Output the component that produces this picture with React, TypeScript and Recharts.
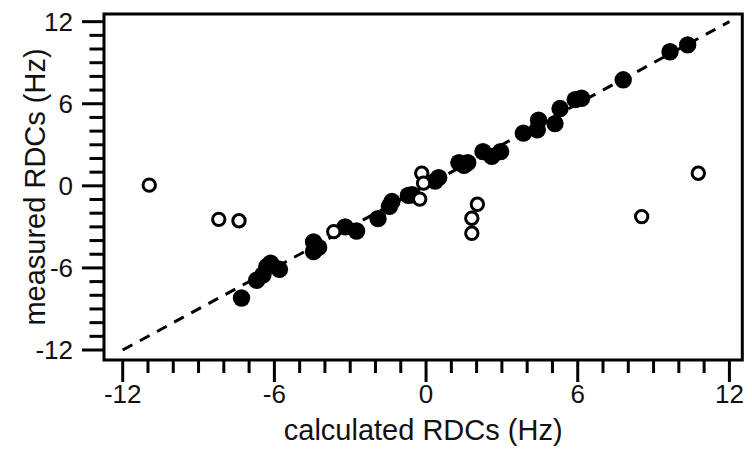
import React from 'react';
import {
  ScatterChart,
  Scatter,
  XAxis,
  YAxis,
  ReferenceLine,
  ReferenceArea,
} from 'recharts';

// filled circles: RDCs used in the fit
const filledX = [
  -7.3, -6.7, -6.45, -6.3, -6.15, -5.8, -4.45, -4.45, -4.25, -3.2, -2.75, -1.9,
  -1.45, -1.35, -0.7, -0.55, 0.36, 0.5, 1.3, 1.5, 1.65, 2.25, 2.6, 2.95, 3.85,
  4.4, 4.45, 5.1, 5.3, 5.9, 6.15, 7.8, 9.65, 10.35,
];
const filledY = [
  -8.2, -6.9, -6.5, -5.9, -5.65, -6.1, -4.1, -4.8, -4.5, -3.0, -3.3, -2.4,
  -1.5, -1.15, -0.7, -0.65, 0.35, 0.6, 1.7, 1.5, 1.7, 2.5, 2.15, 2.5, 3.85,
  4.1, 4.8, 4.55, 5.65, 6.3, 6.4, 7.75, 9.8, 10.3,
];

// open circles: outliers
const openX = [-10.95, -8.2, -7.4, -3.65, -0.17, -0.1, -0.25, 2.03, 1.81, 1.81, 8.53, 10.77];
const openY = [0.05, -2.45, -2.55, -3.35, 0.92, 0.2, -0.97, -1.35, -2.37, -3.47, -2.25, 0.92];

// y = x guide
const lineX = [-12, 12];
const lineY = [-12, 12];

const xTicks = [-12, -11, -10, -9, -8, -7, -6, -5, -4, -3, -2, -1, 0, 1, 2, 3, 4, 5, 6, 7, 8, 9, 10, 11, 12];
const yTicks = xTicks;
const majorTicks = [-12, -6, 0, 6, 12];

const xDomain = [-12.74, 12.51];
const yDomain = [-12.73, 12.56];

const filled = filledX.map((x, i) => ({ x, y: filledY[i] }));
const open = openX.map((x, i) => ({ x, y: openY[i] }));

const FONT = '"Liberation Sans", Arial, sans-serif';

const XTick = (props: any) => {
  const { x, y, payload } = props;
  const major = majorTicks.includes(payload.value);
  return (
    <g>
      <line x1={x} x2={x} y1={y} y2={y + (major ? 22 : 13)} stroke="#000" strokeWidth={3} />
      {major && (
        <text x={x} y={y + 43} textAnchor="middle" fontSize={26} fontFamily={FONT} fill="#111">
          {payload.value}
        </text>
      )}
    </g>
  );
};

const YTick = (props: any) => {
  const { x, y, payload } = props;
  const major = majorTicks.includes(payload.value);
  return (
    <g>
      <line x1={x} x2={x - (major ? 22 : 14.5)} y1={y} y2={y} stroke="#000" strokeWidth={3} />
      {major && (
        <text x={x - 31} y={y + 9} textAnchor="end" fontSize={26} fontFamily={FONT} fill="#111">
          {payload.value}
        </text>
      )}
    </g>
  );
};

const Dot = (props: any) => <circle cx={props.cx} cy={props.cy} r={8.7} fill="#000" />;
const Ring = (props: any) => (
  <circle cx={props.cx} cy={props.cy} r={6.2} fill="#fff" stroke="#000" strokeWidth={3} />
);

export default function App() {
  return (
    <div style={{ width: 744, height: 441 }}>
      <ScatterChart width={744} height={441} margin={{ top: 6, right: 9.7, bottom: 0, left: 0 }}>
        <XAxis
          type="number"
          dataKey="x"
          domain={xDomain}
          ticks={xTicks}
          allowDataOverflow
          axisLine={false}
          tickLine={false}
          tickSize={0}
          tickMargin={0}
          height={89}
          interval={0}
          tick={<XTick />}
          label={{
            content: (p: any) => (
              <text
                x={p.viewBox.x + p.viewBox.width / 2}
                y={p.viewBox.y + 80}
                textAnchor="middle"
                fontSize={29}
                fontFamily={FONT}
                fill="#111"
              >
                calculated RDCs (Hz)
              </text>
            ),
          }}
        />
        <YAxis
          type="number"
          dataKey="y"
          domain={yDomain}
          ticks={yTicks}
          allowDataOverflow
          axisLine={false}
          tickLine={false}
          tickSize={0}
          tickMargin={0}
          width={96}
          interval={0}
          tick={<YTick />}
          label={{
            content: (p: any) => {
              const cx = 27;
              const cy = p.viewBox.y + p.viewBox.height / 2;
              return (
                <text
                  x={cx}
                  y={cy}
                  transform={`rotate(-90 ${cx} ${cy})`}
                  textAnchor="middle"
                  dominantBaseline="central"
                  fontSize={29}
                  fontFamily={FONT}
                  fill="#111"
                >
                  measured RDCs (Hz)
                </text>
              );
            },
          }}
        />
        <ReferenceLine
          segment={[
            { x: lineX[0], y: lineY[0] },
            { x: lineX[1], y: lineY[1] },
          ]}
          stroke="#000"
          strokeWidth={3}
          strokeDasharray="11 8.5"
          ifOverflow="visible"
        />
        <Scatter data={filled} shape={<Dot />} isAnimationActive={false} />
        <Scatter data={open} shape={<Ring />} isAnimationActive={false} />
        <ReferenceArea
          x1={xDomain[0]}
          x2={xDomain[1]}
          y1={yDomain[0]}
          y2={yDomain[1]}
          fill="none"
          fillOpacity={0}
          stroke="#000"
          strokeWidth={3}
          ifOverflow="visible"
        />
      </ScatterChart>
    </div>
  );
}
